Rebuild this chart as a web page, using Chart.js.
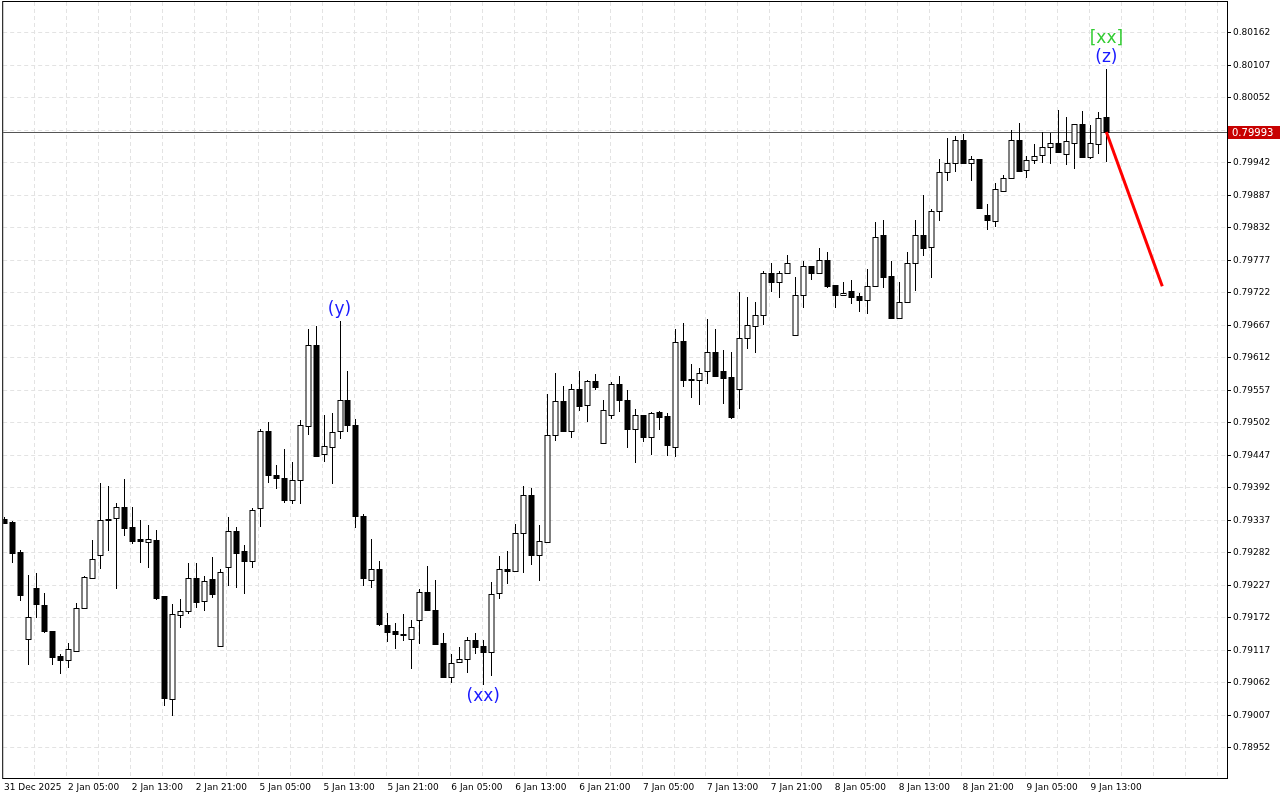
<!DOCTYPE html>
<html><head><meta charset="utf-8">
<script src="https://cdn.jsdelivr.net/npm/chart.js@4.4.1/dist/chart.umd.min.js"></script>
<style>html,body{margin:0;padding:0;background:#fff;}canvas{display:block;}</style>
</head><body>
<canvas id="c" width="1280" height="800"></canvas>
<script>
const timeLabels = ["31 Dec 2025","2 Jan 05:00","2 Jan 13:00","2 Jan 21:00","5 Jan 05:00","5 Jan 13:00","5 Jan 21:00","6 Jan 05:00","6 Jan 13:00","6 Jan 21:00","7 Jan 05:00","7 Jan 13:00","7 Jan 21:00","8 Jan 05:00","8 Jan 13:00","8 Jan 21:00","9 Jan 05:00","9 Jan 13:00"];
const priceTicks = [0.78952,0.79007,0.79062,0.79117,0.79172,0.79227,0.79282,0.79337,0.79392,0.79447,0.79502,0.79557,0.79612,0.79667,0.79722,0.79777,0.79832,0.79887,0.79942,0.79997,0.80052,0.80107,0.80162];
const opens = [.79339,.79333,.79283,.79136,.79221,.79193,.79149,.79106,.79099,.79115,.79187,.79239,.79277,.79339,.79340,.79358,.79324,.79304,.79300,.79302,.79208,.79034,.79175,.79182,.79238,
.79199,.79236,.79123,.79257,.79318,.79284,.79267,.79356,.79487,.79413,.79407,.79371,.79405,.79496,.79632,.79448,.79460,.79487,.79540,.79497,.79344,.79235,.79254,.79159,.79148,.79144,
.79136,.79168,.79214,.79185,.79128,.79071,.79096,.79102,.79133,.79123,.79113,.79213,.79254,.79251,.79315,.79378,.79278,.79300,.79480,.79538,.79487,.79559,.79531,.79571,
.79466,.79514,.79566,.79540,.79491,.79514,.79477,.79520,.79512,.79460,.79640,.79575,.79574,.79588,.79620,.79588,.79578,.79559,.79645,.79664,.79684,.79754,.79740,.79755,.79650,.79718,
.79767,.79755,.79776,.79735,.79718,.79724,.79715,.79708,.79733,.79819,.79749,.79678,.79706,.79772,.79818,.79799,.79860,.79926,.79941,.79980,.79941,.79948,.79853,.79842,
.79894,.79916,.79980,.79928,.79946,.79954,.79968,.79974,.79955,.79975,.80007,.79950,.79972,.80018];
const highs = [.79342,.79335,.79285,.79244,.79247,.79213,.79149,.79110,.79128,.79196,.79241,.79302,.79399,.79394,.79365,.79406,.79358,.79337,.79328,.79320,.79208,.79195,.79203,.79263,.79263,
.79241,.79274,.79253,.79342,.79325,.79294,.79356,.79491,.79503,.79429,.79456,.79434,.79505,.79659,.79665,.79514,.79517,.79673,.79588,.79507,.79346,.79304,.79268,.79180,.79163,.79177,
.79168,.79219,.79258,.79235,.79146,.79109,.79122,.79138,.79146,.79133,.79231,.79276,.79284,.79330,.79394,.79391,.79328,.79550,.79586,.79563,.79567,.79588,.79573,.79583,
.79539,.79570,.79580,.79556,.79525,.79515,.79520,.79521,.79518,.79659,.79670,.79600,.79594,.79677,.79659,.79625,.79620,.79722,.79714,.79705,.79758,.79771,.79758,.79785,.79747,.79775,
.79767,.79797,.79790,.79735,.79739,.79743,.79720,.79761,.79840,.79844,.79775,.79739,.79790,.79844,.79887,.79862,.79948,.79983,.79986,.79990,.79953,.79948,.79871,.79906,
.79920,.79997,.80008,.79952,.79972,.79993,.79992,.80030,.80019,.80007,.80028,.80005,.80027,.80100];
const lows = [.79330,.79264,.79199,.79092,.79171,.79146,.79092,.79076,.79086,.79115,.79186,.79239,.79254,.79284,.79220,.79310,.79296,.79264,.79256,.79202,.79022,.79005,.79154,.79177,.79187,
.79182,.79205,.79123,.79225,.79222,.79211,.79256,.79325,.79399,.79389,.79366,.79363,.79363,.79481,.79443,.79435,.79398,.79474,.79486,.79323,.79225,.79221,.79157,.79130,.79119,.79132,
.79085,.79127,.79182,.79127,.79070,.79061,.79095,.79078,.79109,.79057,.79072,.79203,.79229,.79251,.79247,.79261,.79233,.79300,.79470,.79486,.79476,.79521,.79503,.79557,
.79466,.79508,.79520,.79459,.79433,.79469,.79446,.79489,.79445,.79443,.79561,.79543,.79531,.79567,.79578,.79533,.79508,.79525,.79626,.79619,.79666,.79723,.79712,.79752,.79650,.79696,
.79743,.79755,.79729,.79696,.79715,.79702,.79689,.79685,.79731,.79729,.79678,.79678,.79707,.79724,.79784,.79746,.79843,.79910,.79926,.79940,.79910,.79864,.79828,.79832,
.79892,.79916,.79926,.79916,.79939,.79941,.79939,.79960,.79937,.79931,.79951,.79947,.79956,.79943];
const closes = [.79332,.79281,.79210,.79173,.79195,.79149,.79105,.79099,.79118,.79187,.79240,.79270,.79337,.79337,.79358,.79323,.79301,.79301,.79304,.79205,.79036,.79177,.79182,.79239,.79197,
.79234,.79212,.79249,.79318,.79281,.79268,.79354,.79487,.79412,.79407,.79370,.79405,.79498,.79632,.79445,.79461,.79486,.79540,.79498,.79344,.79238,.79253,.79161,.79147,.79143,.79142,
.79156,.79214,.79185,.79127,.79071,.79095,.79102,.79133,.79122,.79113,.79211,.79254,.79251,.79314,.79378,.79278,.79301,.79480,.79538,.79487,.79559,.79530,.79571,.79561,
.79522,.79566,.79540,.79491,.79514,.79477,.79518,.79511,.79464,.79637,.79574,.79574,.79586,.79620,.79580,.79577,.79511,.79645,.79666,.79684,.79754,.79740,.79755,.79772,.79718,.79766,
.79755,.79776,.79732,.79718,.79721,.79714,.79708,.79733,.79815,.79748,.79679,.79706,.79772,.79818,.79797,.79859,.79926,.79941,.79980,.79941,.79948,.79865,.79844,.79896,
.79916,.79980,.79927,.79946,.79952,.79968,.79974,.79960,.79977,.80006,.79951,.79974,.80016,.79993];
const forecast = [{x:138,y:0.79993},{x:145,y:0.79732}];
const currentPrice = 0.79993;
const waveLabels = [{i:42,text:"(y)",pos:"above",color:"#1a1aff"},{i:60,text:"(xx)",pos:"below",color:"#1a1aff"},{i:138,text:"(z)",pos:"above",color:"#1a1aff"},{i:138,text:"[xx]",pos:"above2",color:"#33cc33"}];

const candlePlugin = {
  id:'candles',
  beforeDatasetsDraw(chart){
    const {ctx, scales:{x,y}, chartArea:a} = chart;
    ctx.save();
    ctx.strokeStyle='#e3e3e3'; ctx.lineWidth=1; ctx.setLineDash([4,3]);
    priceTicks.forEach(p=>{const py=Math.round(y.getPixelForValue(p))+0.5;ctx.beginPath();ctx.moveTo(a.left,py);ctx.lineTo(a.right,py);ctx.stroke();});
    for(let i=4;i<=152;i+=4){const px=Math.round(x.getPixelForValue(i)-1.5)+0.5;ctx.beginPath();ctx.moveTo(px,a.top);ctx.lineTo(px,a.bottom);ctx.stroke();}
    ctx.setLineDash([]);
    const cy=Math.round(y.getPixelForValue(currentPrice))+0.5;
    ctx.strokeStyle='#555'; ctx.beginPath();ctx.moveTo(a.left,cy);ctx.lineTo(a.right,cy);ctx.stroke();
    ctx.beginPath(); ctx.rect(a.left,a.top,a.right-a.left,a.bottom-a.top); ctx.clip();
    for(let i=0;i<opens.length;i++){
      const px=Math.round(x.getPixelForValue(i))+0.5;
      const o=y.getPixelForValue(opens[i]),c=y.getPixelForValue(closes[i]),h=y.getPixelForValue(highs[i]),l=y.getPixelForValue(lows[i]);
      ctx.strokeStyle='#000';ctx.lineWidth=1;
      ctx.beginPath();ctx.moveTo(px,Math.round(h));ctx.lineTo(px,Math.round(l));ctx.stroke();
      const top=Math.round(Math.min(o,c)), bot=Math.max(Math.round(Math.max(o,c)),top+1);
      if(closes[i]>=opens[i]){ctx.fillStyle='#fff';ctx.fillRect(px-2.5,top+0.5,5,bot-top);ctx.strokeRect(px-2.5,top+0.5,5,bot-top);}
      else{ctx.fillStyle='#000';ctx.fillRect(px-3,top,6,bot-top+1);}
    }
    ctx.restore();
  },
  afterDatasetsDraw(chart){
    const {ctx, scales:{x,y}, chartArea:a} = chart;
    ctx.save();
    ctx.font='17px "DejaVu Sans"';ctx.textAlign='center';
    waveLabels.forEach(w=>{
      const px=x.getPixelForValue(w.i);
      ctx.fillStyle=w.color;
      if(w.pos==='above'){ctx.textBaseline='bottom';ctx.fillText(w.text,px,y.getPixelForValue(highs[w.i])-3);}
      else if(w.pos==='above2'){ctx.textBaseline='bottom';ctx.fillText(w.text,px,y.getPixelForValue(highs[w.i])-22);}
      else {ctx.textBaseline='top';ctx.fillText(w.text,px,y.getPixelForValue(lows[w.i])+3);}
    });
    ctx.strokeStyle='#000';ctx.lineWidth=1;
    ctx.strokeRect(a.left-0.5,a.top-0.5,a.right-a.left+1,a.bottom-a.top+1);
    ctx.fillStyle='#000';ctx.font='9px "DejaVu Sans"';ctx.textAlign='left';ctx.textBaseline='middle';
    priceTicks.forEach(p=>{const py=Math.round(y.getPixelForValue(p))+0.5;
      ctx.beginPath();ctx.moveTo(a.right,py);ctx.lineTo(a.right+4,py);ctx.stroke();
      ctx.fillText(p.toFixed(5),a.right+6,py);});
    const cy=Math.round(y.getPixelForValue(currentPrice));
    ctx.fillStyle='#c80000';ctx.fillRect(a.right+1,cy-6,52,13);
    ctx.fillStyle='#fff';ctx.font='10px "DejaVu Sans"';
    ctx.fillText(currentPrice.toFixed(5),a.right+5,cy+1);
    ctx.restore();
  }
};

new Chart(document.getElementById('c'),{
  type:'line',
  data:{datasets:[{data:forecast,borderColor:'#ff0000',borderWidth:3,pointRadius:0,tension:0}]},
  options:{
    responsive:false,animation:false,
    layout:{padding:{top:2,left:2,right:0,bottom:0}},
    plugins:{legend:{display:false},tooltip:{enabled:false}},
    scales:{
      x:{type:'linear',min:-0.1,max:153.1,
        afterFit(s){s.height=22;},
        afterBuildTicks(s){s.ticks=timeLabels.map((t,k)=>({value:k*8}));},
        grid:{display:false,drawTicks:false},border:{display:false},
        ticks:{autoSkip:false,maxRotation:0,align:'start',padding:4,color:'#000',font:{size:9,family:'DejaVu Sans'},callback:(v)=>timeLabels[Math.round(v/8)]}},
      y:{position:'right',min:0.78900,max:0.80213,
        afterFit(s){s.width=53;},
        grid:{display:false,drawTicks:false},border:{display:false},
        ticks:{display:false}}
    }
  },
  plugins:[candlePlugin]
});
</script>
</body></html>
